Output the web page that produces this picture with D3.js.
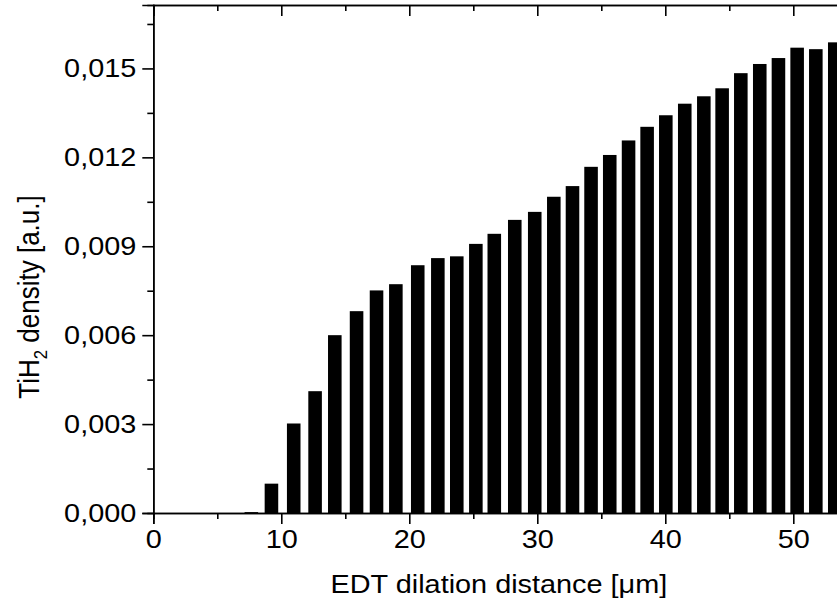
<!DOCTYPE html>
<html>
<head>
<meta charset="utf-8">
<script src="https://cdn.jsdelivr.net/npm/d3@7/dist/d3.min.js"></script>
<style>
  html, body { margin: 0; padding: 0; background: #fff; }
  svg { display: block; }
  text { font-family: "Liberation Sans", Arial, sans-serif; fill: #000; }
</style>
</head>
<body>
<svg id="chart" width="837" height="603"></svg>
<script>
// ---- data ----
const distance = [7.66, 9.23, 10.97, 12.64, 14.18, 15.88, 17.44, 18.95, 20.66, 22.23,
  23.71, 25.20, 26.64, 28.24, 29.80, 31.29, 32.75, 34.20, 35.66, 37.13,
  38.58, 40.04, 41.52, 43.01, 44.44, 45.90, 47.38, 48.84, 50.30, 51.76, 53.24];
const density = [0.00003, 0.00099, 0.00302, 0.00411, 0.00600, 0.00681, 0.00751, 0.00772, 0.00836, 0.00860,
  0.00866, 0.00908, 0.00942, 0.00989, 0.01016, 0.01067, 0.01103, 0.01168, 0.01208, 0.01257,
  0.01303, 0.01342, 0.01381, 0.01406, 0.01433, 0.01484, 0.01515, 0.01535, 0.01570, 0.01565, 0.01588];
const xMajorTicks = [0, 10, 20, 30, 40, 50];
const xMinorTicks = [5, 15, 25, 35, 45];
const yMajorTicks = [0, 0.003, 0.006, 0.009, 0.012, 0.015];
const yMinorTicks = [0.0015, 0.0045, 0.0075, 0.0105, 0.0135, 0.0165];
const xTitle = "EDT dilation distance [μm]";
const yTitleParts = ["TiH", "2", " density [a.u.]"];
const barWidthUnits = 1.06;

// ---- layout ----
const svg = d3.select("#chart");
const mLeft = 153.3, mTop = 5, mBottom = 513, mRight = 844.5;
const x = d3.scaleLinear().domain([0, 54]).range([mLeft, mRight]);
const y = d3.scaleLinear().domain([0, 0.01714]).range([mBottom, mTop]);
const fmt = v => d3.format(".3f")(v).replace(".", ",");
const FS = 26;
const SX = 1.11; // horizontal stretch of the reference lettering

// bars
svg.append("g").selectAll("rect").data(distance).join("rect")
  .attr("x", (d) => x(d - barWidthUnits / 2))
  .attr("width", x(barWidthUnits) - x(0))
  .attr("y", (d, i) => y(density[i]))
  .attr("height", (d, i) => y(0) - y(density[i]))
  .attr("fill", "#000");

function styleAxis(g) {
  g.selectAll("path").attr("stroke", "#000").attr("stroke-width", 1.6);
  g.selectAll("line").attr("stroke", "#000").attr("stroke-width", 1.6);
  g.selectAll("text").style("font-size", FS + "px").style("font-family", "'Liberation Sans', Arial, sans-serif")
    .each(function () {
      const t = d3.select(this);
      const x0 = +t.attr("x") || 0;
      t.attr("x", x0 / SX).attr("transform", `scale(${SX},1)`);
    });
}

// bottom axis
const gB = svg.append("g").attr("transform", `translate(0,${mBottom})`)
  .call(d3.axisBottom(x).tickValues(xMajorTicks).tickSize(11).tickPadding(6).tickFormat(d3.format("d")));
styleAxis(gB);
const gBm = svg.append("g").attr("transform", `translate(0,${mBottom})`)
  .call(d3.axisBottom(x).tickValues(xMinorTicks).tickSize(6).tickFormat(""));
styleAxis(gBm);

// top axis (ticks inward)
const gT = svg.append("g").attr("transform", `translate(0,${mTop})`)
  .call(d3.axisTop(x).tickValues(xMajorTicks).tickSize(-11).tickFormat(""));
styleAxis(gT);
const gTm = svg.append("g").attr("transform", `translate(0,${mTop})`)
  .call(d3.axisTop(x).tickValues(xMinorTicks).tickSize(-6).tickFormat(""));
styleAxis(gTm);

// left axis
const gL = svg.append("g").attr("transform", `translate(${mLeft},0)`)
  .call(d3.axisLeft(y).tickValues(yMajorTicks).tickSize(11).tickPadding(6).tickFormat(fmt));
styleAxis(gL);
const gLm = svg.append("g").attr("transform", `translate(${mLeft},0)`)
  .call(d3.axisLeft(y).tickValues(yMinorTicks).tickSize(6).tickFormat(""));
styleAxis(gLm);

// axis titles
const xCenter = (mLeft + mRight) / 2;
svg.append("text")
  .attr("transform", `translate(${xCenter},593) scale(${SX},1)`)
  .attr("text-anchor", "middle")
  .style("font-size", FS + "px")
  .text(xTitle);

const yt = svg.append("text")
  .attr("transform", `translate(39,${(mTop + mBottom) / 2 + 38}) scale(${SX},1) rotate(-90)`)
  .attr("text-anchor", "middle")
  .style("font-size", FS + "px");
yt.append("tspan").text(yTitleParts[0]);
yt.append("tspan").attr("dy", 7).style("font-size", (FS * 0.65) + "px").text(yTitleParts[1]);
yt.append("tspan").attr("dy", -7).text(yTitleParts[2]);
</script>
</body>
</html>
